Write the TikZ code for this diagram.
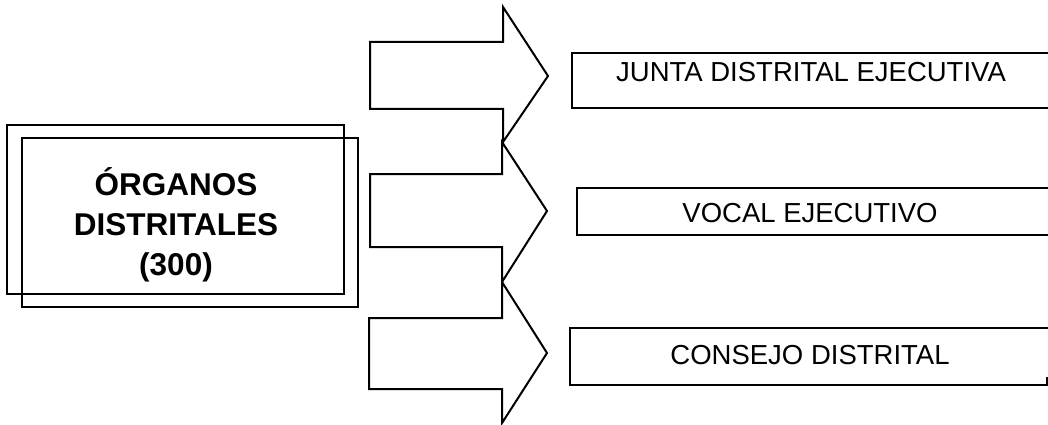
\documentclass[tikz,border=0pt]{standalone}
\usepackage{fontspec}
\setmainfont{Liberation Sans}
\begin{document}
\begin{tikzpicture}[x=1pt,y=-1pt,
  line/.style={draw=black,line width=2pt,line join=miter},
  rlabel/.style={font=\fontsize{27.5}{33}\selectfont,inner sep=0pt},
  title/.style={font=\fontsize{31.5}{40}\selectfont\bfseries,align=center,inner sep=0pt}]
\path[use as bounding box] (0,0) rectangle (1048,425);
% left double box
\draw[line] (7,125) rectangle (344,294);
\draw[line] (22,138) rectangle (358,307);
\node[title] (org) at (176,225) {ÓRGANOS\\DISTRITALES\\(300)};
% block arrows
\draw[line] (370,42) -- (503,42) -- (503,7) -- (548,76) -- (503,142) -- (503,109) -- (370,109) -- cycle;
\draw[line] (370,174) -- (502,174) -- (502,142) -- (547,211) -- (502,282) -- (502,247) -- (370,247) -- cycle;
\draw[line] (369,318) -- (502,318) -- (502,282) -- (547,353) -- (502,423) -- (502,389) -- (369,389) -- cycle;
% right boxes (they run past the right edge)
\draw[line] (1052,53) -- (572,53) -- (572,108) -- (1052,108);
\draw[line] (1052,188) -- (577,188) -- (577,235) -- (1052,235);
\draw[line] (1052,328) -- (570,328) -- (570,385) -- (1047,385) -- (1047,377);
\node[rlabel] (jde) at (811,72.5) {JUNTA DISTRITAL EJECUTIVA};
\node[rlabel] (ve) at (810,213) {VOCAL EJECUTIVO};
\node[rlabel] (cd) at (810,355) {CONSEJO DISTRITAL};
\end{tikzpicture}
\end{document}
